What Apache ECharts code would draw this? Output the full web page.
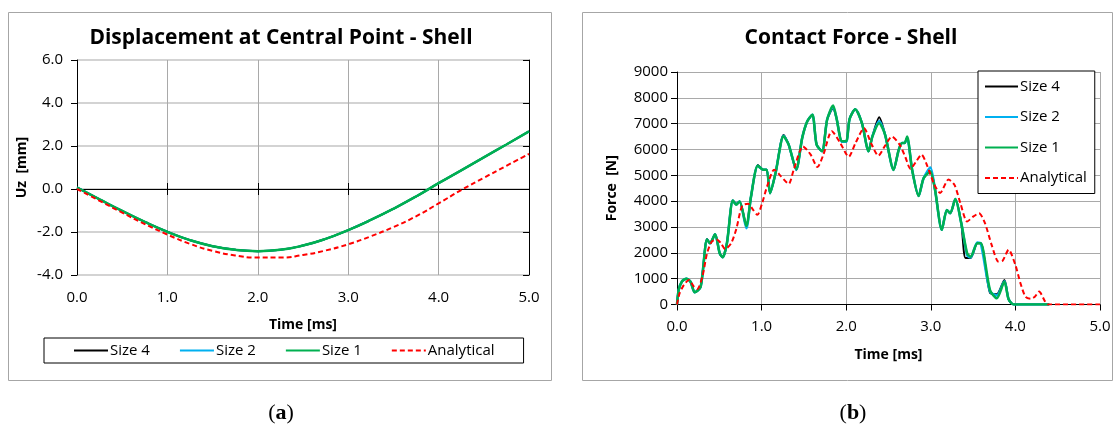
<!DOCTYPE html>
<html>
<head>
<meta charset="utf-8">
<title>Shell impact: displacement and contact force</title>
<script src="https://cdn.jsdelivr.net/npm/echarts@6/dist/echarts.min.js"></script>
<style>
  html, body { margin: 0; padding: 0; background: #fff; }
  #chart { width: 1117px; height: 427px; }
</style>
</head>
<body>
<div id="chart"></div>
<script>
// ---- (a) displacement at the central point [mm] vs time [ms] ----
const dispTime = [0, 0.25, 0.5, 0.75, 1.0, 1.25, 1.5, 1.75, 2.0, 2.25, 2.5,
                  2.75, 3.0, 3.25, 3.5, 3.75, 4.0, 4.25, 4.5, 4.75, 5.0];
// the three mesh sizes coincide at this scale
const dispSize4 = [0.07, -0.48, -1.02, -1.53, -1.99, -2.38, -2.66, -2.83, -2.89, -2.83, -2.63,
                   -2.32, -1.91, -1.44, -0.92, -0.35, 0.27, 0.87, 1.47, 2.07, 2.68];
const dispSize2 = [0.07, -0.48, -1.02, -1.53, -1.99, -2.38, -2.66, -2.83, -2.89, -2.83, -2.63,
                   -2.32, -1.91, -1.44, -0.92, -0.35, 0.27, 0.87, 1.47, 2.07, 2.68];
const dispSize1 = [0.07, -0.48, -1.02, -1.53, -1.99, -2.38, -2.66, -2.83, -2.89, -2.83, -2.63,
                   -2.32, -1.91, -1.44, -0.92, -0.35, 0.27, 0.87, 1.47, 2.07, 2.68];
const dispAnalytical = [0, -0.55, -1.10, -1.63, -2.12, -2.55, -2.88, -3.09, -3.19, -3.19, -3.07,
                        -2.86, -2.57, -2.20, -1.77, -1.27, -0.67, -0.05, 0.52, 1.08, 1.63];

// ---- (b) contact force [N] vs time [ms], as [time, force] pairs ----
const forceSize1 = [
  [0,0],[0.02,560],[0.06,900],[0.11,1000],[0.16,880],[0.21,470],[0.28,690],[0.355,2520],
  [0.39,2370],[0.45,2720],[0.505,1980],[0.54,1825],[0.59,2370],[0.66,4030],[0.70,3860],
  [0.74,3990],[0.82,3040],[0.875,4180],[0.955,5370],[1.02,5220],[1.06,5220],[1.10,4310],
  [1.165,5090],[1.26,6510],[1.32,6190],[1.41,5240],[1.48,6450],[1.54,7090],[1.60,7350],
  [1.65,6190],[1.715,5930],[1.775,7160],[1.845,7700],[1.885,7220],[1.95,6320],[2.0,6320],
  [2.04,7180],[2.107,7560],[2.186,7020],[2.264,5930],[2.31,6510],[2.39,7020],[2.46,6570],
  [2.56,5210],[2.62,5980],[2.66,6250],[2.69,6250],[2.72,6500],[2.78,5200],[2.856,4200],
  [2.915,4890],[2.994,5150],[3.05,4440],[3.13,2890],[3.19,3660],[3.23,3530],[3.29,4080],
  [3.36,3150],[3.43,1980],[3.47,1850],[3.55,2370],[3.59,2370],[3.70,560],[3.78,240],
  [3.87,880],[3.92,200],[3.98,0],[4.40,0]
];
const forceSize2 = [
  [0,0],[0.02,560],[0.06,900],[0.11,1000],[0.16,880],[0.21,470],[0.28,690],[0.355,2520],
  [0.39,2370],[0.45,2720],[0.505,1980],[0.54,1825],[0.59,2370],[0.66,4030],[0.70,3880],
  [0.74,3990],[0.82,2950],[0.875,4180],[0.955,5370],[1.02,5220],[1.06,5220],[1.10,4310],
  [1.165,5090],[1.26,6530],[1.32,6190],[1.41,5220],[1.48,6450],[1.54,7090],[1.60,7350],
  [1.65,6190],[1.715,5930],[1.775,7160],[1.845,7650],[1.885,7220],[1.95,6300],[2.0,6300],
  [2.04,7180],[2.107,7560],[2.186,7020],[2.264,5930],[2.31,6510],[2.39,7100],[2.46,6570],
  [2.56,5210],[2.62,5980],[2.66,6250],[2.69,6250],[2.72,6450],[2.78,5200],[2.856,4200],
  [2.915,4890],[2.994,5300],[3.05,4440],[3.13,2890],[3.19,3660],[3.23,3530],[3.29,4080],
  [3.36,3150],[3.43,1900],[3.47,1820],[3.55,2400],[3.59,2370],[3.70,500],[3.78,350],
  [3.87,900],[3.92,200],[3.98,0],[4.40,0]
];
const forceSize4 = [
  [0,0],[0.02,560],[0.06,900],[0.11,1000],[0.16,880],[0.21,470],[0.28,690],[0.355,2540],
  [0.39,2370],[0.45,2720],[0.505,1980],[0.54,1825],[0.59,2370],[0.66,4030],[0.70,3900],
  [0.74,3990],[0.82,3040],[0.875,4180],[0.955,5400],[1.02,5220],[1.06,5220],[1.10,4310],
  [1.165,5090],[1.26,6560],[1.32,6190],[1.41,5200],[1.48,6450],[1.54,7090],[1.60,7350],
  [1.65,6190],[1.715,5930],[1.775,7160],[1.845,7600],[1.885,7220],[1.95,6300],[2.0,6300],
  [2.04,7180],[2.107,7560],[2.186,7020],[2.264,5930],[2.31,6510],[2.39,7250],[2.46,6570],
  [2.56,5210],[2.62,5980],[2.66,6250],[2.69,6250],[2.72,6450],[2.78,5200],[2.856,4200],
  [2.915,4890],[2.994,5150],[3.05,4440],[3.13,2890],[3.19,3660],[3.23,3530],[3.29,4080],
  [3.36,3150],[3.41,1800],[3.47,1800],[3.55,2370],[3.59,2370],[3.70,450],[3.78,400],
  [3.87,950],[3.92,200],[3.98,0],[4.40,0]
];
const forceAnalytical = [
  [0,0],[0.03,430],[0.08,750],[0.14,950],[0.20,690],[0.24,600],[0.30,1075],[0.355,1980],
  [0.41,2430],[0.47,2520],[0.52,2370],[0.57,2140],[0.64,2370],[0.70,2910],[0.77,3820],
  [0.84,3900],[0.90,3660],[0.95,3470],[1.006,3920],[1.065,4570],[1.15,5220],[1.23,4960],
  [1.32,4670],[1.38,5220],[1.49,6120],[1.58,5800],[1.66,5320],[1.73,5800],[1.83,6710],
  [1.93,6250],[2.03,5720],[2.11,6250],[2.21,6820],[2.30,6200],[2.38,5760],[2.46,6150],
  [2.54,6500],[2.63,6200],[2.70,5700],[2.76,5250],[2.83,5550],[2.89,5800],[2.96,5350],
  [3.04,4650],[3.11,4320],[3.21,4840],[3.28,4630],[3.35,3920],[3.43,3210],[3.50,3400],
  [3.57,3530],[3.64,3150],[3.72,2300],[3.80,1660],[3.85,1700],[3.92,2120],[4.00,1530],
  [4.06,820],[4.12,300],[4.18,220],[4.23,300],[4.28,500],[4.35,120],[4.38,0],[5.0,0]
];

const seriesNames = ['Size 4', 'Size 2', 'Size 1', 'Analytical'];
const xTicks = { min: 0, max: 5, interval: 1 };

const FONT = '"Open Sans", "Liberation Sans", sans-serif';
const SERIF = '"Liberation Serif", "DejaVu Serif", serif';
const COL = { size4: '#000000', size2: '#00b0f0', size1: '#00b050', analytical: '#ff0000' };

const zip = (xs, ys) => xs.map((x, i) => [x, ys[i]]);
const fmt1 = v => v.toFixed(1);
const fmtInt = v => String(v);

function lineSeries(name, data, color, width, xi, yi, opts) {
  return Object.assign({
    type: 'line', name: name, data: data,
    xAxisIndex: xi, yAxisIndex: yi,
    symbol: 'none', showSymbol: false,
    lineStyle: { color: color, width: width },
    itemStyle: { color: color },
    emphasis: { disabled: true }
  }, opts || {});
}

const gridL = { left: 77, top: 60, width: 452, height: 215 };
const gridR = { left: 677, top: 72, width: 423, height: 232.5 };

const tickFont = { color: '#000', fontSize: 15, fontFamily: FONT };
const nameFont = { fontWeight: 'bold', fontSize: 14, color: '#000', fontFamily: FONT };
const legendText = { fontFamily: FONT, fontSize: 15, color: '#000', padding: [0, 0, 0, -3] };

const option = {
  animation: false,
  backgroundColor: '#ffffff',
  textStyle: { fontFamily: FONT },
  grid: [
    Object.assign({ containLabel: false }, gridL),
    Object.assign({ containLabel: false }, gridR)
  ],
  xAxis: [
    { // left chart: bottom tick labels and vertical grid
      gridIndex: 0, type: 'value', min: xTicks.min, max: xTicks.max, interval: xTicks.interval,
      position: 'bottom',
      axisLine: { show: false }, axisTick: { show: false },
      axisLabel: Object.assign({ formatter: fmt1, margin: 15 }, tickFont),
      splitLine: { show: true, lineStyle: { color: '#a9a9a9', width: 1 } },
      name: 'Time [ms]', nameLocation: 'middle', nameGap: 43, nameTextStyle: nameFont
    },
    { // left chart: zero line with upward ticks
      gridIndex: 0, type: 'value', min: xTicks.min, max: xTicks.max, interval: xTicks.interval,
      position: 'bottom',
      axisLine: { show: true, onZero: true, onZeroAxisIndex: 0, lineStyle: { color: '#000', width: 1 } },
      axisTick: { show: true, inside: true, length: 6, lineStyle: { color: '#000' } },
      axisLabel: { show: false }, splitLine: { show: false }
    },
    { // left chart: zero line with downward ticks
      gridIndex: 0, type: 'value', min: xTicks.min, max: xTicks.max, interval: xTicks.interval,
      position: 'bottom',
      axisLine: { show: true, onZero: true, onZeroAxisIndex: 0, lineStyle: { color: '#000', width: 1 } },
      axisTick: { show: true, inside: false, length: 6, lineStyle: { color: '#000' } },
      axisLabel: { show: false }, splitLine: { show: false }
    },
    { // right chart
      gridIndex: 1, type: 'value', min: xTicks.min, max: xTicks.max, interval: xTicks.interval,
      position: 'bottom',
      axisLine: { show: true, onZero: false, lineStyle: { color: '#000', width: 1 } },
      axisTick: { show: true, inside: false, length: 6, lineStyle: { color: '#000' } },
      axisLabel: Object.assign({ formatter: fmt1, margin: 15 }, tickFont),
      splitLine: { show: true, lineStyle: { color: '#a9a9a9', width: 1 } },
      name: 'Time [ms]', nameLocation: 'middle', nameGap: 44, nameTextStyle: nameFont
    }
  ],
  yAxis: [
    { // left chart
      gridIndex: 0, type: 'value', min: -4, max: 6, interval: 2,
      axisLine: { show: true, onZero: false, lineStyle: { color: '#000', width: 1 } },
      axisTick: { show: true, inside: false, length: 6, lineStyle: { color: '#000' } },
      axisLabel: Object.assign({ formatter: fmt1, margin: 14 }, tickFont),
      splitLine: { show: true, lineStyle: { color: '#c4c4c4', width: 1.5 } },
      name: 'Uz  [mm]', nameLocation: 'middle', nameRotate: 90, nameGap: 48, nameTextStyle: nameFont
    },
    { // left chart: inward ticks on the same axis line
      gridIndex: 0, type: 'value', min: -4, max: 6, interval: 2,
      axisLine: { show: true, onZero: false, lineStyle: { color: '#000', width: 1 } },
      axisTick: { show: true, inside: true, length: 6, lineStyle: { color: '#000' } },
      axisLabel: { show: false }, splitLine: { show: false }
    },
    { // right chart
      gridIndex: 1, type: 'value', min: 0, max: 9000, interval: 1000,
      axisLine: { show: true, onZero: false, lineStyle: { color: '#000', width: 1 } },
      axisTick: { show: true, inside: false, length: 6, lineStyle: { color: '#000' } },
      axisLabel: Object.assign({ formatter: fmtInt, margin: 9 }, tickFont),
      splitLine: { show: true, lineStyle: { color: '#a9a9a9', width: 1 } },
      name: 'Force  [N]', nameLocation: 'middle', nameRotate: 90, nameGap: 58, nameTextStyle: nameFont
    }
  ],
  legend: [
    {
      data: seriesNames, orient: 'horizontal',
      left: 44, top: 338,
      padding: [5, 29, 5, 29],
      itemGap: 29, itemWidth: 34, itemHeight: 14,
      backgroundColor: '#ffffff', borderColor: '#000', borderWidth: 1,
      selectedMode: false,
      itemStyle: { opacity: 0 },
      textStyle: legendText
    },
    {
      data: seriesNames, orient: 'vertical',
      left: 978, top: 71,
      padding: [8, 8, 8, 6],
      itemGap: 15.5, itemWidth: 33, itemHeight: 14,
      backgroundColor: '#ffffff', borderColor: '#000', borderWidth: 1,
      selectedMode: false,
      itemStyle: { opacity: 0 },
      textStyle: legendText
    }
  ],
  graphic: [
    { type: 'rect', z: -10, silent: true,
      shape: { x: 8.5, y: 12.5, width: 543, height: 368 },
      style: { fill: 'none', stroke: '#a6a6a6', lineWidth: 1 } },
    { type: 'rect', z: -10, silent: true,
      shape: { x: 582.5, y: 12.5, width: 530, height: 368 },
      style: { fill: 'none', stroke: '#a6a6a6', lineWidth: 1 } },
    { type: 'text', silent: true, x: 281, y: 38,
      style: { text: 'Displacement at Central Point - Shell', textAlign: 'center', textVerticalAlign: 'middle',
               font: 'bold 21px ' + FONT, fill: '#000' } },
    { type: 'text', silent: true, x: 851, y: 38,
      style: { text: 'Contact Force - Shell', textAlign: 'center', textVerticalAlign: 'middle',
               font: 'bold 21px ' + FONT, fill: '#000' } },
    { type: 'text', silent: true, x: 281, y: 413,
      style: { text: '{p|(}{b|a}{p|)}', textAlign: 'center', textVerticalAlign: 'middle',
               rich: { p: { fontFamily: SERIF, fontSize: 22, fill: '#000' },
                       b: { fontFamily: SERIF, fontSize: 22, fontWeight: 'bold', fill: '#000' } } } },
    { type: 'text', silent: true, x: 853, y: 413,
      style: { text: '{p|(}{b|b}{p|)}', textAlign: 'center', textVerticalAlign: 'middle',
               rich: { p: { fontFamily: SERIF, fontSize: 22, fill: '#000' },
                       b: { fontFamily: SERIF, fontSize: 22, fontWeight: 'bold', fill: '#000' } } } }
  ],
  series: [
    // (a) displacement
    lineSeries('Size 4', zip(dispTime, dispSize4), COL.size4, 2, 0, 0, { smooth: true }),
    lineSeries('Size 2', zip(dispTime, dispSize2), COL.size2, 2, 0, 0, { smooth: true }),
    lineSeries('Size 1', zip(dispTime, dispSize1), COL.size1, 2.5, 0, 0, { smooth: true }),
    lineSeries('Analytical', zip(dispTime, dispAnalytical), COL.analytical, 2, 0, 0,
               { smooth: true, lineStyle: { color: COL.analytical, width: 2, type: [5, 3] } }),
    // (b) contact force
    lineSeries('Size 4', forceSize4, COL.size4, 2, 3, 2, { smooth: 0.25 }),
    lineSeries('Size 2', forceSize2, COL.size2, 2.5, 3, 2, { smooth: 0.25 }),
    lineSeries('Size 1', forceSize1, COL.size1, 2.5, 3, 2, { smooth: 0.25 }),
    lineSeries('Analytical', forceAnalytical, COL.analytical, 2, 3, 2,
               { smooth: 0.25, lineStyle: { color: COL.analytical, width: 2, type: [5, 3] } })
  ]
};

const chart = echarts.init(document.getElementById('chart'), null, { renderer: 'canvas' });
chart.setOption(option);
</script>
</body>
</html>
